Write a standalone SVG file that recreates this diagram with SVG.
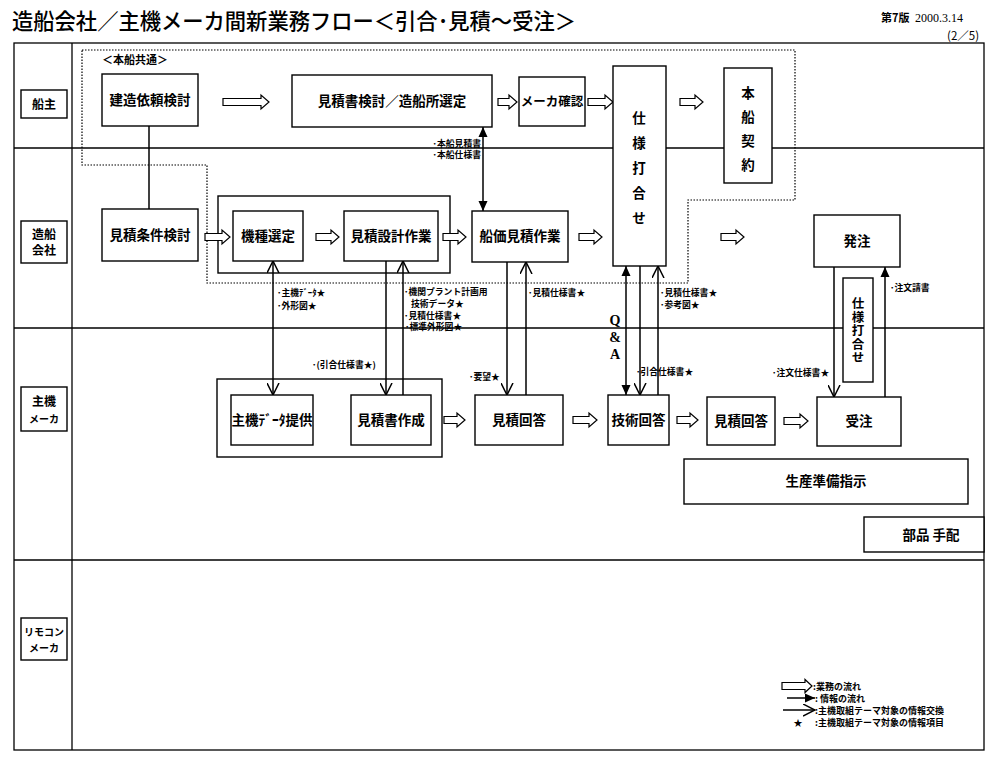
<svg xmlns="http://www.w3.org/2000/svg" width="1000" height="761" viewBox="0 0 1000 761">
<defs>
<style>
text{font-family:"Noto Sans CJK JP","Noto Sans CJK SC",sans-serif;fill:#000}
.box{fill:#fff;stroke:#000;stroke-width:1.4}
.grp{fill:none;stroke:#000;stroke-width:1.4}
.lane{stroke:#000;stroke-width:1.3;fill:none}
.lbl{font-size:13.5px;font-weight:700;text-anchor:middle}
.vt{font-size:12.5px;font-weight:700;writing-mode:vertical-rl;letter-spacing:1px}
.sm{font-size:8.8px;font-weight:700}
.ln{font-size:12px;font-weight:700;text-anchor:middle}
.ha{fill:#fff;stroke:#000;stroke-width:1.2}
.c{stroke:#000;stroke-width:1.5;fill:none}
.qa{font-family:"Liberation Serif",serif;font-size:14px;font-weight:700;text-anchor:middle}
.lg{font-size:9px;font-weight:700}
.serif{font-family:"Liberation Serif",serif}
</style>
<marker id="fa" viewBox="0 0 10 10" refX="10" refY="5" markerWidth="10" markerHeight="10" markerUnits="userSpaceOnUse" orient="auto-start-reverse"><path d="M0,0.5 L10,5 L0,9.5 Z" fill="#000"/></marker>
<marker id="oa" viewBox="0 0 13 13" refX="12" refY="6.5" markerWidth="13" markerHeight="13" markerUnits="userSpaceOnUse" orient="auto-start-reverse"><path d="M0,0.5 L12,6.5 L0,12.5" fill="none" stroke="#000" stroke-width="1.5"/></marker>
</defs>
<rect width="1000" height="761" fill="#fff"/>

<g id="title">
<text x="12" y="29" font-size="22" font-weight="500" textLength="564" lengthAdjust="spacingAndGlyphs">造船会社／主機メーカ間新業務フロー＜引合･見積～受注＞</text>
<text x="881" y="22" font-size="11" font-weight="700">第7版</text>
<text x="915" y="22" class="serif" font-size="12">2000.3.14</text>
<text x="947" y="40" font-size="11.5">(2／5)</text>
</g>

<g id="frame">
<rect x="14" y="43" width="970" height="707" class="lane"/>
<line x1="72" y1="43" x2="72" y2="750" class="lane"/>
<line x1="14" y1="148" x2="984" y2="148" class="lane"/>
<line x1="14" y1="328" x2="984" y2="328" class="lane"/>
<line x1="14" y1="560" x2="984" y2="560" class="lane"/>
</g>

<g id="lane-labels">
<rect x="21" y="90" width="46" height="28" class="box"/>
<text x="44" y="108.5" class="ln">船主</text>
<rect x="21" y="221" width="46" height="42" class="box"/>
<text x="44" y="239" class="ln">造船</text>
<text x="44" y="255" class="ln">会社</text>
<rect x="21" y="387" width="46" height="44" class="box"/>
<text x="44" y="406" class="ln">主機</text>
<text x="44" y="423" class="ln" style="font-size:10px">メーカ</text>
<rect x="21" y="618" width="46" height="42" class="box"/>
<text x="44" y="636" class="ln" style="font-size:10px">リモコン</text>
<text x="44" y="652" class="ln" style="font-size:10px">メーカ</text>
</g>

<g id="common-area">
<path d="M82,50 H795 V200 H688 V283 H207 V165 H82 Z" fill="none" stroke="#000" stroke-width="1.2" stroke-dasharray="1.5,1.5"/>
<text x="102" y="64" font-size="11" font-weight="700">＜本船共通＞</text>
</g>

<g id="groups">
<rect x="218" y="196" width="232" height="77" class="grp"/>
<rect x="217" y="379" width="225" height="78" class="grp"/>
</g>

<g id="connectors">
<line x1="149" y1="126" x2="149" y2="209" class="c"/>
<line x1="483" y1="127" x2="483" y2="211" class="c" marker-start="url(#fa)" marker-end="url(#fa)"/>
<line x1="273" y1="261" x2="273" y2="395" class="c" marker-start="url(#oa)" marker-end="url(#oa)"/>
<line x1="386" y1="261" x2="386" y2="395" class="c" marker-end="url(#oa)"/>
<line x1="403" y1="395" x2="403" y2="261" class="c" marker-end="url(#oa)"/>
<line x1="507" y1="262" x2="507" y2="395" class="c" marker-end="url(#oa)"/>
<line x1="526" y1="395" x2="526" y2="262" class="c" marker-end="url(#oa)"/>
<line x1="626" y1="266" x2="626" y2="395" class="c" marker-start="url(#fa)" marker-end="url(#fa)"/>
<line x1="640" y1="266" x2="640" y2="395" class="c" marker-end="url(#oa)"/>
<line x1="658" y1="395" x2="658" y2="266" class="c" marker-end="url(#oa)"/>
<line x1="834" y1="267" x2="834" y2="397" class="c" marker-end="url(#oa)"/>
<line x1="885" y1="397" x2="885" y2="267" class="c" marker-end="url(#fa)"/>
<path class="ha" d="M223,98.5 H261 V95 L269,102 L261,109 V105.5 H223 Z"/>
<path class="ha" d="M498,98.5 H509 V95 L517,102 L509,109 V105.5 H498 Z"/>
<path class="ha" d="M588,98.5 H605 V95 L613,102 L605,109 V105.5 H588 Z"/>
<path class="ha" d="M680,98.5 H695 V95 L703,102 L695,109 V105.5 H680 Z"/>
<path class="ha" d="M205,233.5 H222 V230 L230,237 L222,244 V240.5 H205 Z"/>
<path class="ha" d="M316,233.5 H331 V230 L339,237 L331,244 V240.5 H316 Z"/>
<path class="ha" d="M443,233.5 H458 V230 L466,237 L458,244 V240.5 H443 Z"/>
<path class="ha" d="M579,233.5 H594 V230 L602,237 L594,244 V240.5 H579 Z"/>
<path class="ha" d="M721,233.5 H736 V230 L744,237 L736,244 V240.5 H721 Z"/>
<path class="ha" d="M444,416.5 H457 V413 L465,420 L457,427 V423.5 H444 Z"/>
<path class="ha" d="M573,416.5 H589 V413 L597,420 L589,427 V423.5 H573 Z"/>
<path class="ha" d="M677,416.5 H690 V413 L698,420 L690,427 V423.5 H677 Z"/>
<path class="ha" d="M784,417.5 H800 V414 L808,421 L800,428 V424.5 H784 Z"/>
</g>

<g id="connector-labels">
<text x="481" y="147" class="sm" text-anchor="end">･本船見積書</text>
<text x="481" y="158" class="sm" text-anchor="end">･本船仕様書</text>
<text x="277" y="296" class="sm">･主機ﾃﾞｰﾀ★</text>
<text x="277" y="309" class="sm">･外形図★</text>
<text x="404" y="295" class="sm">･機関プラント計画用</text>
<text x="411" y="307" class="sm">技術データ★</text>
<text x="404" y="318.5" class="sm">･見積仕様書★</text>
<text x="405" y="330" class="sm">･標準外形図★</text>
<text x="312" y="368" class="sm">･(引合仕様書★)</text>
<text x="528" y="296" class="sm">･見積仕様書★</text>
<text x="469" y="380" class="sm">･要望★</text>
<text x="660" y="296" class="sm">･見積仕様書★</text>
<text x="660" y="307.5" class="sm">･参考図★</text>
<text x="636" y="375" class="sm">･引合仕様書★</text>
<text x="890" y="291" class="sm">･注文請書</text>
<text x="772" y="376" class="sm">･注文仕様書★</text>
<text x="615" y="325" class="qa">Q</text>
<text x="615" y="342" class="qa">&amp;</text>
<text x="615" y="359" class="qa">A</text>
</g>

<g id="n-kenzo"><rect x="102" y="74" width="96" height="52" class="box"/><text x="150" y="105" class="lbl">建造依頼検討</text></g>
<g id="n-mitsumorisho-kento"><rect x="292" y="75" width="200" height="52" class="box"/><text x="392" y="106" class="lbl">見積書検討／造船所選定</text></g>
<g id="n-maker-kakunin"><rect x="519" y="77" width="66" height="49" class="box"/><text x="552" y="106" class="lbl" style="font-size:12.5px">メーカ確認</text></g>
<g id="n-shiyo-uchiawase"><rect x="613" y="66" width="53" height="200" class="box"/>
<text x="639" y="123" class="lbl">仕</text><text x="639" y="148" class="lbl">様</text><text x="639" y="173" class="lbl">打</text><text x="639" y="198" class="lbl">合</text><text x="639" y="223" class="lbl">せ</text></g>
<g id="n-honsen-keiyaku"><rect x="724" y="68" width="48" height="115" class="box"/>
<text x="748" y="98" class="lbl">本</text><text x="748" y="122" class="lbl">船</text><text x="748" y="146" class="lbl">契</text><text x="748" y="170" class="lbl">約</text></g>
<g id="n-mitsumori-joken"><rect x="102" y="209" width="96" height="52" class="box"/><text x="150" y="240" class="lbl">見積条件検討</text></g>
<g id="n-kishu-sentei"><rect x="233" y="211" width="70" height="50" class="box"/><text x="268" y="241" class="lbl">機種選定</text></g>
<g id="n-mitsumori-sekkei"><rect x="344" y="211" width="94" height="50" class="box"/><text x="391" y="241" class="lbl">見積設計作業</text></g>
<g id="n-senka-mitsumori"><rect x="472" y="211" width="96" height="51" class="box"/><text x="520" y="241" class="lbl">船価見積作業</text></g>
<g id="n-hatchu"><rect x="814" y="215" width="86" height="52" class="box"/><text x="857" y="246" class="lbl">発注</text></g>
<g id="n-shiyo-uchiawase2"><rect x="843" y="278" width="30" height="104" class="box"/>
<text x="858" y="297" class="vt">仕様打合せ</text></g>
<g id="n-shuki-data"><rect x="231" y="395" width="82" height="50" class="box"/><text x="272" y="425" class="lbl">主機ﾃﾞｰﾀ提供</text></g>
<g id="n-mitsumorisho-sakusei"><rect x="351" y="395" width="80" height="50" class="box"/><text x="391" y="425" class="lbl">見積書作成</text></g>
<g id="n-mitsumori-kaito"><rect x="475" y="395" width="88" height="50" class="box"/><text x="519" y="425" class="lbl">見積回答</text></g>
<g id="n-gijutsu-kaito"><rect x="608" y="395" width="61" height="50" class="box"/><text x="638.5" y="425" class="lbl">技術回答</text></g>
<g id="n-mitsumori-kaito2"><rect x="707" y="397" width="68" height="48" class="box"/><text x="741" y="426" class="lbl">見積回答</text></g>
<g id="n-juchu"><rect x="817" y="397" width="84" height="49" class="box"/><text x="859" y="426" class="lbl">受注</text></g>
<g id="n-seisan-junbi"><rect x="684" y="459" width="284" height="45" class="box"/><text x="826" y="486" class="lbl">生産準備指示</text></g>
<g id="n-buhin-tehai"><rect x="864" y="517" width="120" height="35" class="box"/><text x="931" y="540" class="lbl">部品 手配</text></g>

<g id="legend">
<path class="ha" d="M782,682.5 H805 V679.5 L812,686 L805,692.5 V689.5 H782 Z"/>
<text x="813" y="689.5" class="lg">:業務の流れ</text>
<line x1="787" y1="698" x2="815" y2="698" class="c" marker-end="url(#fa)"/>
<text x="815" y="701.5" class="lg">: 情報の流れ</text>
<line x1="783" y1="710" x2="815" y2="710" class="c" marker-end="url(#oa)"/>
<text x="815" y="713.5" class="lg">:主機取組テーマ対象の情報交換</text>
<text x="798" y="725.5" class="lg" text-anchor="middle">★</text>
<text x="815" y="725.5" class="lg">:主機取組テーマ対象の情報項目</text>
</g>
</svg>
